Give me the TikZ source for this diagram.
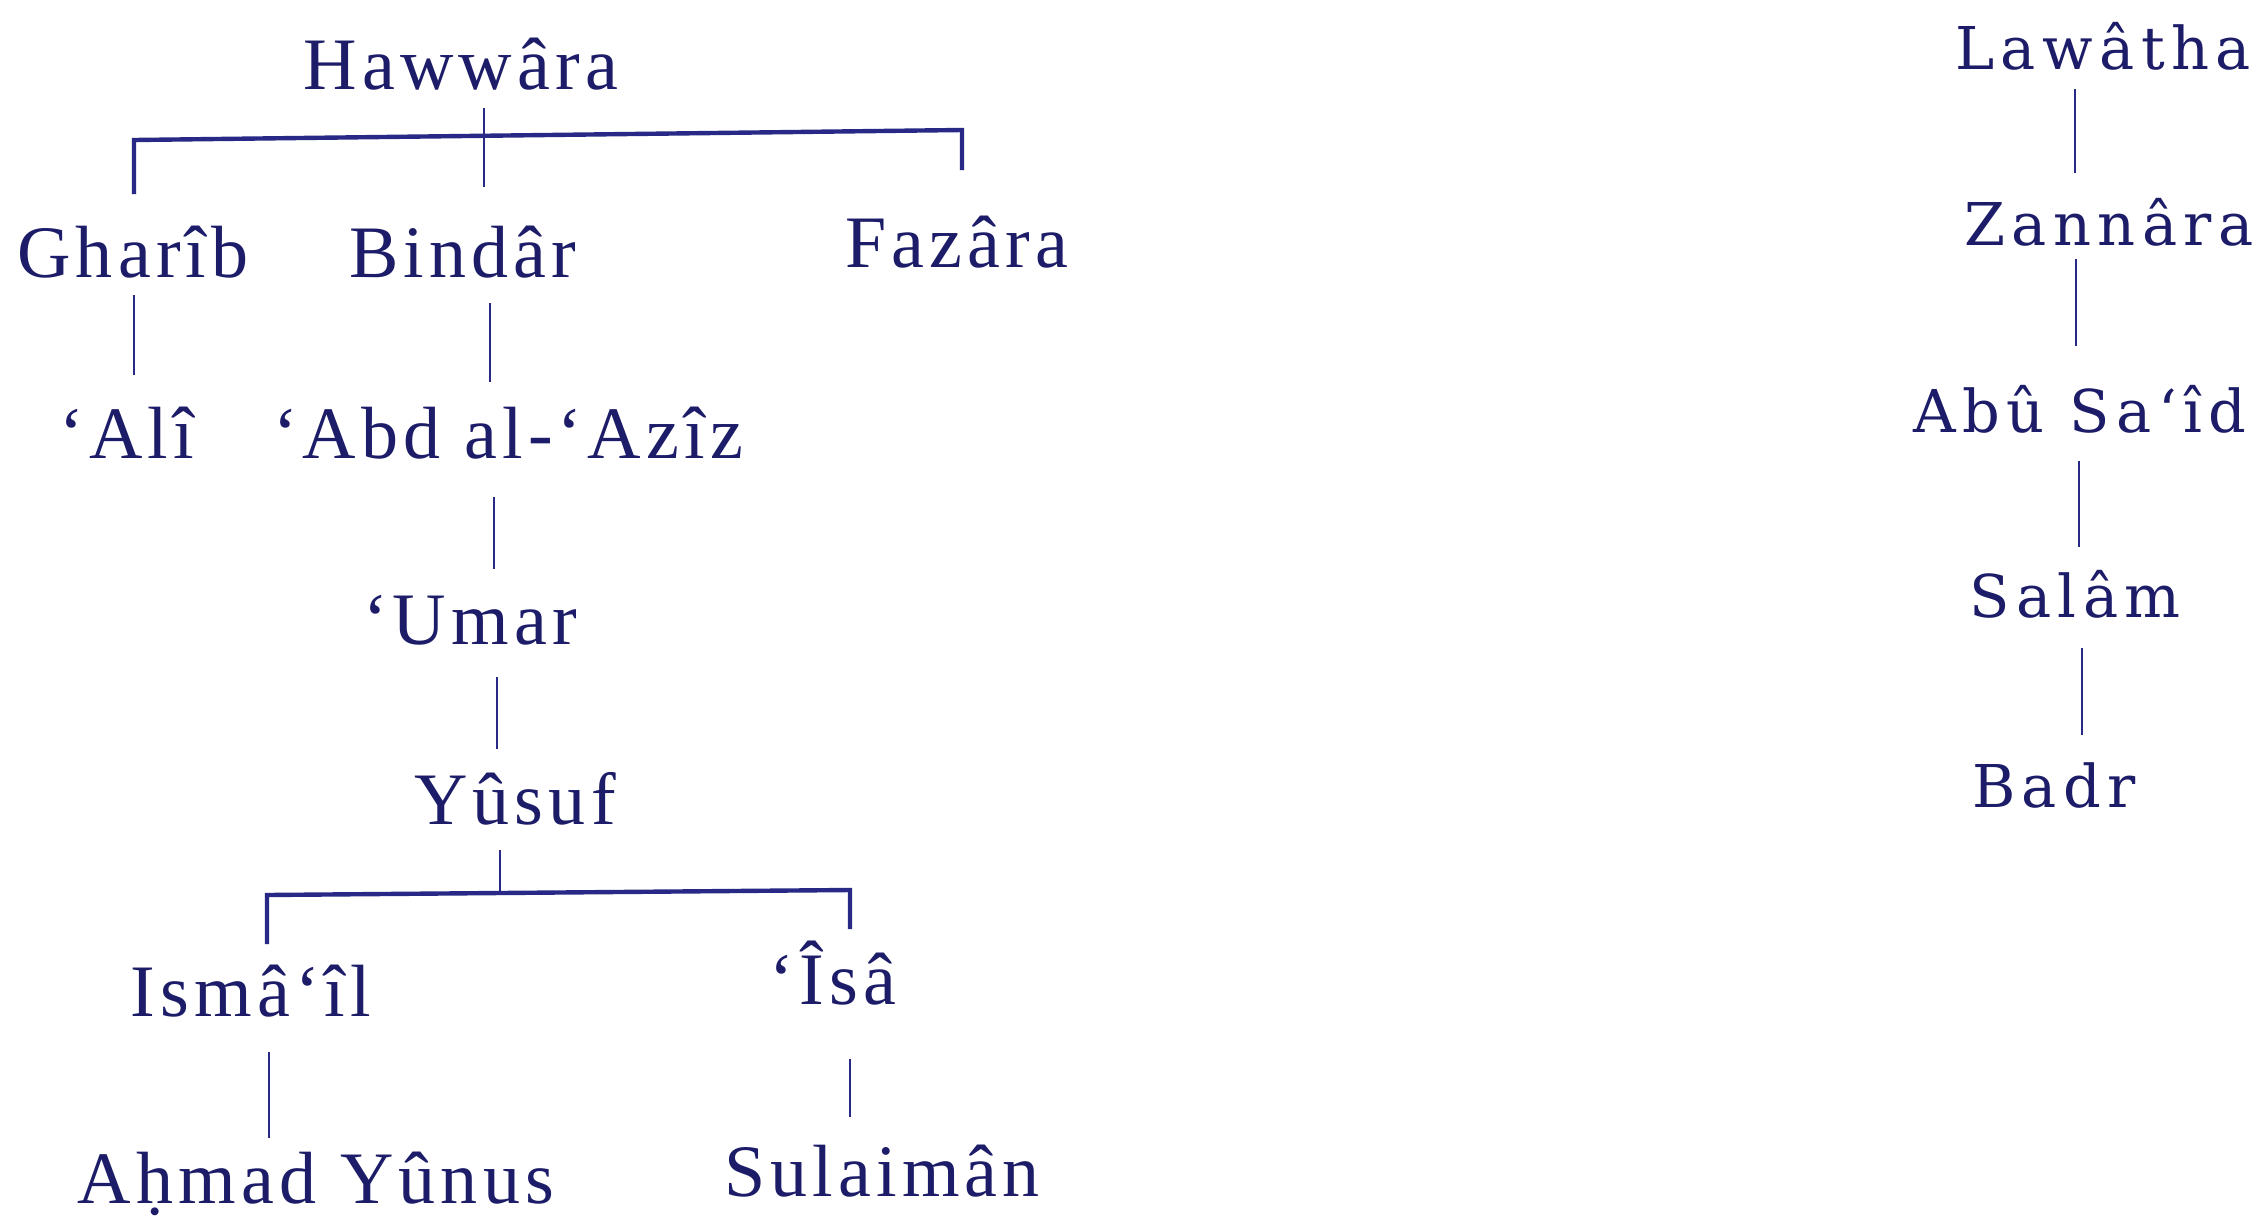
\documentclass[tikz,border=0pt]{standalone}
\usepackage{fontspec}
\usetikzlibrary{calc}
\newfontfamily\treefont[LetterSpace=7]{Liberation Serif}
\newfontfamily\linefont[LetterSpace=11]{DejaVu Serif}
\definecolor{ink}{RGB}{28,28,105}
\definecolor{rule}{RGB}{40,40,135}
\tikzset{
  lname/.style={anchor=base, inner sep=0pt, text=ink,
    font=\treefont\fontsize{74pt}{80pt}\selectfont},
  rname/.style={anchor=base, inner sep=0pt, text=ink,
    font=\linefont\fontsize{59pt}{66pt}\selectfont},
  tie/.style={draw=rule, line width=2.8pt},
  bar/.style={draw=rule, line width=4.4pt, line join=miter}
}
\begin{document}
\begin{tikzpicture}[x=1pt, y=-1pt]
\useasboundingbox[fill=white] (0,0) rectangle (2259,1219);

% ---- Hawwâra line ----
\node[lname] (haw) at (461,89)   {Hawwâra};
\node[lname] (gha) at (133,277)  {Gharîb};
\node[lname] (bin) at (463,277)  {Bindâr};
\node[lname] (faz) at (957,267)  {Fazâra};
\node[lname] (ali) at (127,458)  {‘Alî};
\node[lname] (abd) at (508,458)  {‘Abd al-‘Azîz};
\node[lname] (uma) at (470,644)  {‘Umar};
\node[lname] (yus) at (515,824)  {Yûsuf};
\node[lname] (ism) at (251,1016) {Ismâ‘îl};
\node[lname] (isa) at (833,1004) {‘Îsâ};
\node[lname] (ahm) at (316,1203) {Aḥmad Yûnus};
\node[lname] (sul) at (882,1196) {Sulaimân};

\coordinate (hawL) at (134,140);
\coordinate (hawR) at (962,130);
\coordinate (yusL) at (267,895);
\coordinate (yusR) at (850,890);

\draw[tie] ($(haw.base)+(23,19)$) -- ($(bin.base)+(21,-90)$);
\draw[bar] ($(gha.base)+(1,-83)$) -- (hawL) -- (hawR) -- ($(faz.base)+(5,-97)$);
\draw[tie] ($(gha.base)+(1,18)$) -- ($(ali.base)+(7,-83)$);
\draw[tie] ($(bin.base)+(27,26)$) -- ($(abd.base)+(-18,-76)$);
\draw[tie] ($(abd.base)+(-14,39)$) -- ($(uma.base)+(24,-75)$);
\draw[tie] ($(uma.base)+(27,33)$) -- ($(yus.base)+(-18,-75)$);
\draw[tie] ($(yus.base)+(-15,26)$) -- ($(yus.base)+(-15,68)$);
\draw[bar] ($(ism.base)+(16,-72)$) -- (yusL) -- (yusR) -- ($(isa.base)+(17,-75)$);
\draw[tie] ($(ism.base)+(18,36)$) -- ($(ahm.base)+(-47,-65)$);
\draw[tie] ($(isa.base)+(17,55)$) -- ($(sul.base)+(-32,-79)$);

% ---- Lawâtha line ----
\node[rname] (law) at (2103,69)  {Lawâtha};
\node[rname] (zan) at (2109,245) {Zannâra};
\node[rname] (abu) at (2080,432) {Abû Sa‘îd};
\node[rname] (sal) at (2075,617) {Salâm};
\node[rname] (bad) at (2054,807) {Badr};

\draw[tie] ($(law.base)+(-28,20)$) -- ($(zan.base)+(-34,-72)$);
\draw[tie] ($(zan.base)+(-33,14)$) -- ($(abu.base)+(-4,-86)$);
\draw[tie] ($(abu.base)+(-1,29)$) -- ($(sal.base)+(4,-70)$);
\draw[tie] ($(sal.base)+(7,31)$) -- ($(bad.base)+(28,-72)$);
\end{tikzpicture}
\end{document}
